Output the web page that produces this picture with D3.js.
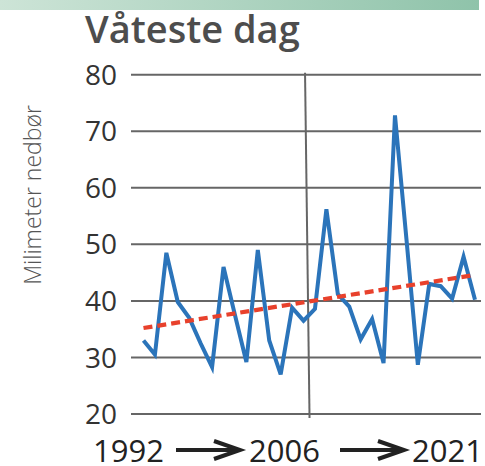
<!DOCTYPE html>
<html>
<head>
<meta charset="utf-8">
<script src="https://cdn.jsdelivr.net/npm/d3@7"></script>
<style>
  html, body { margin: 0; padding: 0; background: #fff; }
  svg { display: block; }
</style>
</head>
<body>
<div id="chart"></div>
<script>
const years = d3.range(1992, 2022);
const rainfall = [
  33.0, 30.5, 48.5, 39.8, 37.0, 32.5, 28.3, 46.0, 37.5, 29.2,
  49.0, 33.0, 27.0, 38.8, 36.5, 38.6, 56.2, 41.2, 39.0, 33.2,
  36.8, 29.0, 72.8, 51.0, 28.7, 43.0, 42.6, 40.4, 47.8, 40.2
];
const trendYears = [1992, 2021];
const trendValues = [35.2, 44.6];
const yTicks = [20, 30, 40, 50, 60, 70, 80];
const xLabels = ['1992', '2006', '2021'];
const dividerYear = 2006;

const width = 485, height = 466;

const svg = d3.select('#chart')
  .append('svg')
  .attr('width', width)
  .attr('height', height);

// top banner
const grad = svg.append('defs').append('linearGradient')
  .attr('id', 'banner')
  .attr('x1', '0%').attr('x2', '100%');
grad.append('stop').attr('offset', '0%').attr('stop-color', '#cde4d7');
grad.append('stop').attr('offset', '100%').attr('stop-color', '#8fc3aa');
svg.append('rect')
  .attr('x', 0).attr('y', 0)
  .attr('width', 479).attr('height', 10)
  .attr('fill', 'url(#banner)');

// title
svg.append('text')
  .attr('x', 85)
  .attr('y', 43)
  .attr('font-family', 'Open Sans, sans-serif')
  .attr('font-weight', 600)
  .attr('font-size', '38px')
  .attr('fill', '#4d4d4d')
  .text('Våteste dag');

const x = d3.scaleLinear().domain([1992, 2021]).range([143.5, 475]);
const y = d3.scaleLinear().domain([20, 80]).range([414, 74.7]);

// horizontal grid
svg.append('g')
  .selectAll('line')
  .data(yTicks)
  .join('line')
  .attr('x1', 131)
  .attr('x2', 481)
  .attr('y1', d => y(d))
  .attr('y2', d => y(d))
  .attr('stroke', '#666')
  .attr('stroke-width', 2);

// tick labels
svg.append('g')
  .selectAll('text')
  .data(yTicks)
  .join('text')
  .attr('x', 117)
  .attr('y', d => y(d))
  .attr('dy', '0.36em')
  .attr('text-anchor', 'end')
  .attr('font-family', 'Open Sans, sans-serif')
  .attr('font-size', '28px')
  .attr('fill', '#333')
  .text(d => d);

// 2006 divider
svg.append('line')
  .attr('x1', x(dividerYear) + 1.5)
  .attr('x2', x(dividerYear) + 6)
  .attr('y1', y(80) - 2)
  .attr('y2', y(20) + 4)
  .attr('stroke', '#666')
  .attr('stroke-width', 2);

// y axis title
svg.append('text')
  .attr('transform', `translate(41,195) rotate(-90)`)
  .attr('text-anchor', 'middle')
  .attr('font-family', 'Open Sans, sans-serif')
  .attr('font-weight', 300)
  .attr('font-size', '23px')
  .attr('fill', '#555')
  .text('Milimeter nedbør');

// data line
const line = d3.line()
  .x((d, i) => x(years[i]))
  .y(d => y(d));

svg.append('path')
  .datum(rainfall)
  .attr('d', line)
  .attr('fill', 'none')
  .attr('stroke', '#2b74ba')
  .attr('stroke-width', 4)
  .attr('stroke-linejoin', 'miter');

// trend line
svg.append('line')
  .attr('x1', x(trendYears[0]))
  .attr('x2', x(trendYears[1]))
  .attr('y1', y(trendValues[0]))
  .attr('y2', y(trendValues[1]))
  .attr('stroke', '#e8412c')
  .attr('stroke-width', 4.2)
  .attr('stroke-dasharray', '9,5');

// bottom labels with arrows
const labelPos = [93, 249, 412];
svg.append('g')
  .selectAll('text')
  .data(xLabels)
  .join('text')
  .attr('x', (d, i) => labelPos[i])
  .attr('y', 462)
  .attr('font-family', 'Open Sans, sans-serif')
  .attr('font-size', '31px')
  .attr('fill', '#222')
  .text(d => d);

const arrows = [[176, 240], [340, 404]];
arrows.forEach(([a, b]) => {
  const g = svg.append('g').attr('stroke', '#222').attr('fill', 'none')
    .attr('stroke-width', 4);
  g.append('line').attr('x1', a).attr('x2', b - 3).attr('y1', 450).attr('y2', 450);
  g.append('path')
    .attr('d', `M${b - 26},${441} L${b},${450} L${b - 26},${459}`)
    .attr('stroke-linejoin', 'miter');
});
</script>
</body>
</html>
